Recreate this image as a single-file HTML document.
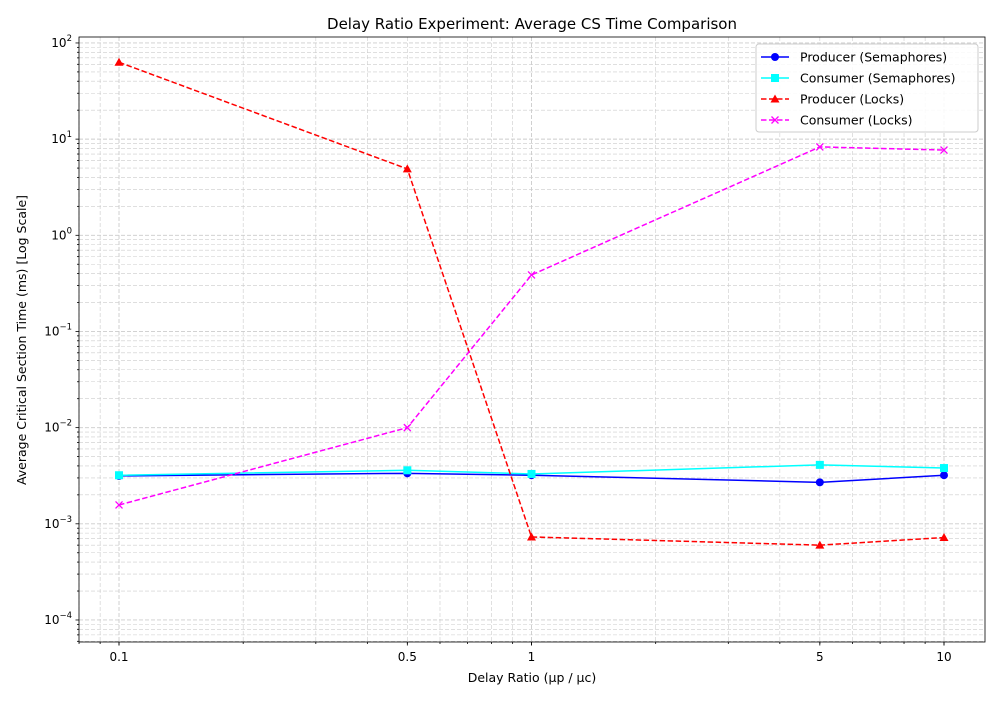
<!DOCTYPE html>
<html><head><meta charset="utf-8"><style>
body{margin:0;background:#fff}
svg{font-family:"DejaVu Sans","Liberation Sans",sans-serif}
</style></head><body>
<svg id="c" width="1000" height="700"></svg>
<script>
const categories=[0.1,0.5,1,5,10];
const xTickLabels=["0.1","0.5","1","5","10"];
const prodSem=[0.00315,0.00335,0.0032,0.0027,0.0032];
const consSem=[0.0032,0.0036,0.0033,0.0041,0.0038];
const prodLock=[63,4.9,0.00073,0.0006,0.00072];
const consLock=[0.00157,0.01,0.387,8.3,7.7];
const yTickExps=[-4,-3,-2,-1,0,1,2];
const L=79,R=985,T=37,B=642;
const xmin=-1.097,xmax=1.0994,ymin=-4.229,ymax=2.062;
const X=v=>L+(Math.log10(v)-xmin)/(xmax-xmin)*(R-L);
const Y=v=>B-(Math.log10(v)-ymin)/(ymax-ymin)*(B-T);
const svg=document.getElementById('c');const NS='http://www.w3.org/2000/svg';
function mk(t,a,p){const e=document.createElementNS(NS,t);for(const k in a)e.setAttribute(k,a[k]);(p||svg).appendChild(e);return e;}
const grid=mk('g',{});


const ax=mk('g',{});


// x grid & ticks
for(let d=-2;d<=1;d++)for(let m=1;m<10;m++){const v=m*Math.pow(10,d);const x=X(v);if(x<L-0.5||x>R+0.5)continue;
mk('line',{x1:x,x2:x,y1:T,y2:B,stroke:'#ccc','stroke-dasharray':'4,2','stroke-width':m==1?0.9:0.6},grid);
mk('line',{x1:x,x2:x,y1:B,y2:B+(m==1?3.5:2),stroke:'#000','stroke-width':0.8},ax);}
for(let d=-5;d<=2;d++)for(let m=1;m<10;m++){const v=m*Math.pow(10,d);const y=Y(v);if(y<T-0.5||y>B+0.5)continue;
mk('line',{x1:L,x2:R,y1:y,y2:y,stroke:'#ccc','stroke-dasharray':'4,2','stroke-width':m==1?0.9:0.6},grid);
mk('line',{x1:L,x2:L-(m==1?3.5:2),y1:y,y2:y,stroke:'#000','stroke-width':0.8},ax);}
categories.forEach((c,i)=>{const t=mk('text',{x:X(c),y:B+19,'text-anchor':'middle','font-size':12},ax);t.textContent=xTickLabels[i];


mk('line',{x1:X(c),x2:X(c),y1:B,y2:B+3.5,stroke:'#000','stroke-width':0.8},ax);});
yTickExps.forEach(e=>{const y=Y(Math.pow(10,e));const t=mk('text',{x:L-7,y:y+4,'text-anchor':'end','font-size':12},ax);
t.appendChild(document.createTextNode('10'));const s=mk('tspan',{dy:-6,'font-size':8.5},t);s.textContent=String(e).replace('-','−');

});
mk('rect',{x:L,y:T,width:R-L,height:B-T,fill:'none',stroke:'#000','stroke-width':0.8},ax);
const series=[
{n:'producer-semaphores',d:prodSem,c:'#0000ff',dash:null,mk:'o',lab:'Producer (Semaphores)'},
{n:'consumer-semaphores',d:consSem,c:'#00ffff',dash:null,mk:'s',lab:'Consumer (Semaphores)'},
{n:'producer-locks',d:prodLock,c:'#ff0000',dash:'5.5,2.5',mk:'^',lab:'Producer (Locks)'},
{n:'consumer-locks',d:consLock,c:'#ff00ff',dash:'5.5,2.5',mk:'x',lab:'Consumer (Locks)'}];
function marker(type,x,y,c,g){
if(type=='o')mk('circle',{cx:x,cy:y,r:4,fill:c},g);
else if(type=='s')mk('rect',{x:x-4,y:y-4,width:8,height:8,fill:c},g);
else if(type=='^')mk('polygon',{points:`${x},${y-4.5} ${x+4.5},${y+3.5} ${x-4.5},${y+3.5}`,fill:c},g);
else{mk('path',{d:`M${x-3.5},${y-3.5}L${x+3.5},${y+3.5}M${x-3.5},${y+3.5}L${x+3.5},${y-3.5}`,stroke:c,'stroke-width':1.3},g);}}
series.forEach(s=>{const g=mk('g',{});


const p=mk('polyline',{points:categories.map((c,i)=>X(c)+','+Y(s.d[i])).join(' '),fill:'none',stroke:s.c,'stroke-width':1.5},g);
if(s.dash)p.setAttribute('stroke-dasharray',s.dash);
categories.forEach((c,i)=>marker(s.mk,X(c),Y(s.d[i]),s.c,g));});
// legend
const lg=mk('g',{});


mk('rect',{x:756,y:44,width:222,height:88,rx:3,fill:'#fff','fill-opacity':0.85,stroke:'#ccc'},lg);
series.forEach((s,i)=>{const y=57+i*21;const e=mk('g',{},lg);


const l=mk('line',{x1:761,x2:789,y1:y,y2:y,stroke:s.c,'stroke-width':1.5},e);if(s.dash)l.setAttribute('stroke-dasharray',s.dash);
marker(s.mk,775,y,s.c,e);
const t=mk('text',{x:800,y:y+4.5,'font-size':12.5},e);t.textContent=s.lab;});
const title=mk('text',{x:532,y:29,'text-anchor':'middle','font-size':15});title.textContent='Delay Ratio Experiment: Average CS Time Comparison';


const xt=mk('text',{x:532,y:682,'text-anchor':'middle','font-size':12.5});xt.textContent='Delay Ratio (μp / μc)';


const yt=mk('text',{x:0,y:0,'text-anchor':'middle','font-size':12.5,transform:'translate(26,340) rotate(-90)'});yt.textContent='Average Critical Section Time (ms) [Log Scale]';


</script>
</body></html>
